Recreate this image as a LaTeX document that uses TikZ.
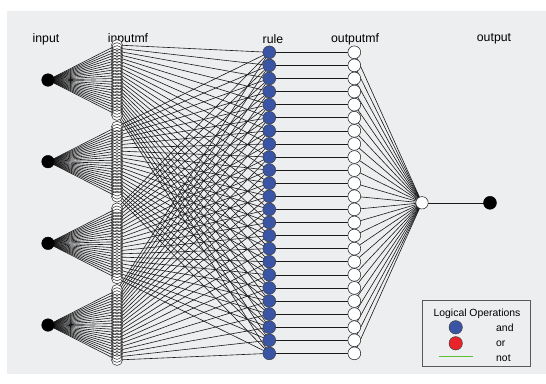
\documentclass[tikz,border=0pt]{standalone}
\usepackage{fontspec}
\setmainfont{Liberation Sans}
\usetikzlibrary{backgrounds}
\definecolor{panel}{HTML}{EDEEF0}
\definecolor{andblue}{HTML}{3A55A6}
\definecolor{orred}{HTML}{E8232A}
\definecolor{notgreen}{HTML}{5DBE3C}
\begin{document}
\begin{tikzpicture}[x=1pt,y=-1pt,
  wire/.style={draw=black!90, line width=0.6pt},
  layerlabel/.style={font=\fontsize{12.3}{14}\selectfont, inner sep=0pt},
  legendtext/.style={font=\fontsize{10.4}{12}\selectfont, inner sep=0pt},
  innode/.style={circle, fill=black, draw=black, minimum size=12.6pt, inner sep=0pt},
  mfnode/.style={circle, fill=white, minimum size=11pt, inner sep=0pt},
  mfring/.style={draw=black!85, line width=0.5pt},
  rulenode/.style={circle, fill=andblue, draw=black!75, line width=0.5pt, minimum size=12.8pt, inner sep=0pt},
  omfnode/.style={circle, fill=white, draw=black!85, line width=0.55pt, minimum size=12.8pt, inner sep=0pt},
  aggnode/.style={circle, fill=white, draw=black!85, line width=0.55pt, minimum size=12.4pt, inner sep=0pt},
  outnode/.style={circle, fill=black, draw=black, minimum size=13pt, inner sep=0pt},
  legendbox/.style={draw=black!65, line width=0.8pt, fill=panel},
]
\useasboundingbox (0,0) rectangle (546,383);

% layer titles
\node[layerlabel] (tin)   at (46,39)  {input};
\node[layerlabel] (tmf)   at (128,39) {inputmf};
\node[layerlabel] (trule) at (273,39) {rule};
\node[layerlabel] (tomf)  at (355,39) {outputmf};
\node[layerlabel] (tout)  at (494,39) {output};

% input variables and their membership functions
\foreach \k in {1,...,4}{
  \pgfmathsetmacro{\yk}{80+81.67*(\k-1)}
  \node[innode] (in\k) at (48,\yk) {};
  \foreach \j in {1,...,24}{
    \pgfmathsetmacro{\ym}{\yk+(\j-12.5)*3.04}
    \node[mfnode] (mf-\k-\j) at (117,\ym) {};
  }
}
% outlines of the stacked membership-function circles
\foreach \k in {1,...,4}{
  \foreach \j in {1,...,24}{
    \draw[mfring] (mf-\k-\j.center) circle[radius=5.5pt];
  }
}

% rules and output membership functions
\foreach \j in {1,...,24}{
  \pgfmathsetmacro{\yr}{52.3+13.09*(\j-1)}
  \node[rulenode] (r\j) at (269.3,\yr) {};
  \node[omfnode] (o\j) at (354.3,\yr) {};
}

% aggregation and output
\node[aggnode] (agg) at (422,202.8) {};
\node[outnode] (out) at (490,202.8) {};

% panel and connections behind the nodes
\begin{scope}[on background layer]
  \fill[white] (0,0) rectangle (546,383);
  \fill[panel] (7,11) rectangle (546,374);
  \foreach \k in {1,...,4}{
    \foreach \j in {1,...,24}{
      \draw[wire] (in\k.center) -- (mf-\k-\j.center);
      \draw[wire] (mf-\k-\j.center) -- (r\j.center);
    }
  }
  \foreach \j in {1,...,24}{
    \draw[wire] (r\j.center) -- (o\j.center);
    \draw[wire] (o\j.center) -- (agg.center);
  }
  \draw[wire] (agg.center) -- (out.center);
\end{scope}

% legend
\node[legendbox, minimum width=108.7pt, minimum height=66pt, inner sep=0pt] (legend) at (476.35,333.7) {};
\node[legendtext] (lgtitle) at (477,314) {Logical Operations};
\node[circle, fill=andblue, draw=black!75, line width=0.5pt, minimum size=13.4pt, inner sep=0pt] (lgand) at (455.7,327.3) {};
\node[circle, fill=orred, draw=black!75, line width=0.5pt, minimum size=13.4pt, inner sep=0pt] (lgor) at (455.7,343.3) {};
\coordinate (lgnotA) at (439,356.7);
\coordinate (lgnotB) at (472.7,356.7);
\draw[notgreen, line width=1pt] (lgnotA) -- (lgnotB);
\node[legendtext, anchor=west] (tand) at (496,327.3) {and};
\node[legendtext, anchor=west] (tor)  at (496,343.3) {or};
\node[legendtext, anchor=west] (tnot) at (496,358.5) {not};
\end{tikzpicture}
\end{document}
